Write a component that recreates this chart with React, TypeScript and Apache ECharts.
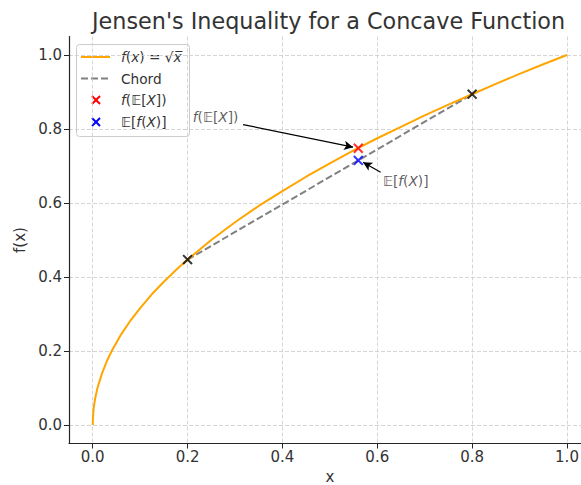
import React, { useEffect, useRef } from "react";
import * as echarts from "echarts";

// f(x) = sqrt(x)
const curveX = [0, 0.0005, 0.002, 0.005, 0.01, 0.02, 0.03, 0.04, 0.06, 0.08, 0.1, 0.125, 0.15, 0.175, 0.2, 0.25, 0.3, 0.35, 0.4, 0.45, 0.5, 0.55, 0.6, 0.65, 0.7, 0.75, 0.8, 0.85, 0.9, 0.95, 1.0];
const curveY = [0, 0.022, 0.045, 0.071, 0.1, 0.141, 0.173, 0.2, 0.245, 0.283, 0.316, 0.354, 0.387, 0.418, 0.447, 0.5, 0.548, 0.592, 0.632, 0.671, 0.707, 0.742, 0.775, 0.806, 0.837, 0.866, 0.894, 0.922, 0.949, 0.975, 1.0];

const chordX = [0.2, 0.8];
const chordY = [0.447, 0.894];

const fOfMeanPoint = [0.56, 0.748];
const meanOfFPoint = [0.56, 0.715];

const xTicks = [0, 0.2, 0.4, 0.6, 0.8, 1.0];
const yTicks = [0, 0.2, 0.4, 0.6, 0.8, 1.0];

// annotation: [textX, textY, arrowStartX, arrowStartY, arrowEndX, arrowEndY]
const annotFOfMean = [0.211, 0.832, 0.317, 0.812, 0.549, 0.751];
const annotMeanOfF = [0.612, 0.659, 0.607, 0.683, 0.57, 0.71];

const FONT = "DejaVu Sans";
const TXT = "#333333";
const XPATH = "path://M-4,-4L-4,-4M0,0L10,10M10,0L0,10M14,14L14,14";
const FS = 13.7;

export default function App() {
  const ref = useRef<HTMLDivElement>(null);
  useEffect(() => {
    if (!ref.current) return;
    const chart = echarts.init(ref.current, null, { renderer: "svg" });
    const tickFmt = (v: number) => v.toFixed(1);
    const richItalic = { i: { fontStyle: "italic", fontFamily: FONT, fontSize: FS, color: TXT } };

    const option: any = {
      animation: false,
      backgroundColor: "#ffffff",
      textStyle: { fontFamily: FONT },
      title: {
        text: "Jensen's Inequality for a Concave Function",
        left: 87,
        top: 5,
        textStyle: { fontFamily: FONT, fontSize: 22.3, fontWeight: "normal", color: TXT },
      },
      grid: { left: 69, top: 36.5, width: 521.7, height: 407, containLabel: false, outerBoundsMode: "none" },
      xAxis: {
        type: "value",
        min: -0.05,
        max: 1.05,
        name: "x",
        nameLocation: "middle",
        nameGap: 24,
        nameTextStyle: { fontFamily: FONT, fontSize: 15, color: TXT },
        axisLine: { show: true, onZero: false, lineStyle: { color: "#262626", width: 1.2 } },
        axisTick: { show: true, inside: false, length: 5, customValues: xTicks, lineStyle: { color: "#262626", width: 1 } },
        axisLabel: { customValues: xTicks, formatter: tickFmt, fontFamily: FONT, fontSize: 15, color: TXT, margin: 6 },
        splitLine: { show: true, lineStyle: { color: "#cccccc", type: [4, 2], width: 0.8 } },
      },
      yAxis: {
        type: "value",
        min: -0.05,
        max: 1.05,
        name: "f(x)",
        nameLocation: "middle",
        nameGap: 38,
        nameTextStyle: { fontFamily: FONT, fontSize: 15, color: TXT },
        axisLine: { show: true, onZero: false, lineStyle: { color: "#262626", width: 1.2 } },
        axisTick: { show: true, inside: false, length: 5, customValues: yTicks, lineStyle: { color: "#262626", width: 1 } },
        axisLabel: { customValues: yTicks, formatter: tickFmt, fontFamily: FONT, fontSize: 15, color: TXT, margin: 7 },
        splitLine: { show: true, lineStyle: { color: "#cccccc", type: [4, 2], width: 0.8 } },
      },
      series: [
        {
          name: "f(x) = √x",
          type: "line",
          data: curveX.map((x, i) => [x, curveY[i]]),
          showSymbol: false,
          symbol: "none",
          smooth: false,
          lineStyle: { color: "#FFA500", width: 2 },
          z: 3,
        },
        {
          name: "Chord",
          type: "line",
          data: chordX.map((x, i) => [x, chordY[i]]),
          symbol: "none",
          lineStyle: { color: "#808080", width: 2, type: [7, 3] },
          z: 2,
        },
        {
          name: "endpoints",
          type: "scatter",
          data: chordX.map((x, i) => [x, chordY[i]]),
          symbol: XPATH,
          symbolSize: 16,
          itemStyle: { color: "#000000", borderColor: "#000000", borderWidth: 2 },
          z: 5,
        },
        {
          name: "f(E[X])",
          type: "scatter",
          data: [fOfMeanPoint],
          symbol: XPATH,
          symbolSize: 16,
          itemStyle: { color: "#ff0000", borderColor: "#ff0000", borderWidth: 2 },
          z: 5,
        },
        {
          name: "E[f(X)]",
          type: "scatter",
          data: [meanOfFPoint],
          symbol: XPATH,
          symbolSize: 16,
          itemStyle: { color: "#0000ff", borderColor: "#0000ff", borderWidth: 2 },
          z: 5,
        },
        {
          name: "annotations",
          type: "scatter",
          data: [
            [annotFOfMean[0], annotFOfMean[1], "{i|f}(𝔼[{i|X}])"],
            [annotMeanOfF[0], annotMeanOfF[1], "𝔼[{i|f}({i|X})]"],
          ],
          symbolSize: 0,
          itemStyle: { color: "transparent" },
          label: {
            show: true,
            position: "inside",
            align: "left",
            verticalAlign: "middle",
            formatter: (p: any) => p.value[2],
            fontFamily: FONT,
            fontSize: FS,
            color: TXT,
            rich: richItalic,
          },
          silent: true,
          z: 6,
          markLine: {
            silent: true,
            symbol: ["none", "arrow"],
            symbolSize: [7, 9],
            label: { show: false },
            lineStyle: { color: "#000000", width: 1.2, type: "solid" },
            data: [
              [{ coord: [annotFOfMean[2], annotFOfMean[3]] }, { coord: [annotFOfMean[4], annotFOfMean[5]] }],
              [{ coord: [annotMeanOfF[2], annotMeanOfF[3]] }, { coord: [annotMeanOfF[4], annotMeanOfF[5]] }],
            ],
          },
        },
      ],
      graphic: [
        {
          type: "group",
          left: 76,
          top: 44,
          z: 100,
          children: [
            { type: "rect", shape: { x: 0.5, y: 0.5, width: 113, height: 92, r: 3 }, style: { fill: "rgba(255,255,255,0.85)", stroke: "#cccccc", lineWidth: 1 } },
            { type: "line", shape: { x1: 5, y1: 13, x2: 34, y2: 13 }, style: { stroke: "#FFA500", lineWidth: 2 } },
            { type: "text", x: 45, y: 13, style: { text: "{i|f}({i|x}) = √{i|x̅}", rich: richItalic, fontFamily: FONT, fontSize: FS, fill: TXT, verticalAlign: "middle" } },
            { type: "line", shape: { x1: 5, y1: 34.5, x2: 34, y2: 34.5 }, style: { stroke: "#808080", lineWidth: 2, lineDash: [7, 3] } },
            { type: "text", x: 45, y: 34.5, style: { text: "Chord", fontFamily: FONT, fontSize: FS, fill: TXT, verticalAlign: "middle" } },
            { type: "line", shape: { x1: 16, y1: 52, x2: 24, y2: 60 }, style: { stroke: "#ff0000", lineWidth: 2 } },
            { type: "line", shape: { x1: 24, y1: 52, x2: 16, y2: 60 }, style: { stroke: "#ff0000", lineWidth: 2 } },
            { type: "text", x: 45, y: 56, style: { text: "{i|f}(𝔼[{i|X}])", rich: richItalic, fontFamily: FONT, fontSize: FS, fill: TXT, verticalAlign: "middle" } },
            { type: "line", shape: { x1: 16, y1: 74, x2: 24, y2: 82 }, style: { stroke: "#0000ff", lineWidth: 2 } },
            { type: "line", shape: { x1: 24, y1: 74, x2: 16, y2: 82 }, style: { stroke: "#0000ff", lineWidth: 2 } },
            { type: "text", x: 45, y: 78, style: { text: "𝔼[{i|f}({i|X})]", rich: richItalic, fontFamily: FONT, fontSize: FS, fill: TXT, verticalAlign: "middle" } },
          ],
        },
      ],
    };
    chart.setOption(option);
    return () => chart.dispose();
  }, []);
  return <div ref={ref} style={{ position: "fixed", left: 0, top: 0, width: 581, height: 485 }} />;
}
